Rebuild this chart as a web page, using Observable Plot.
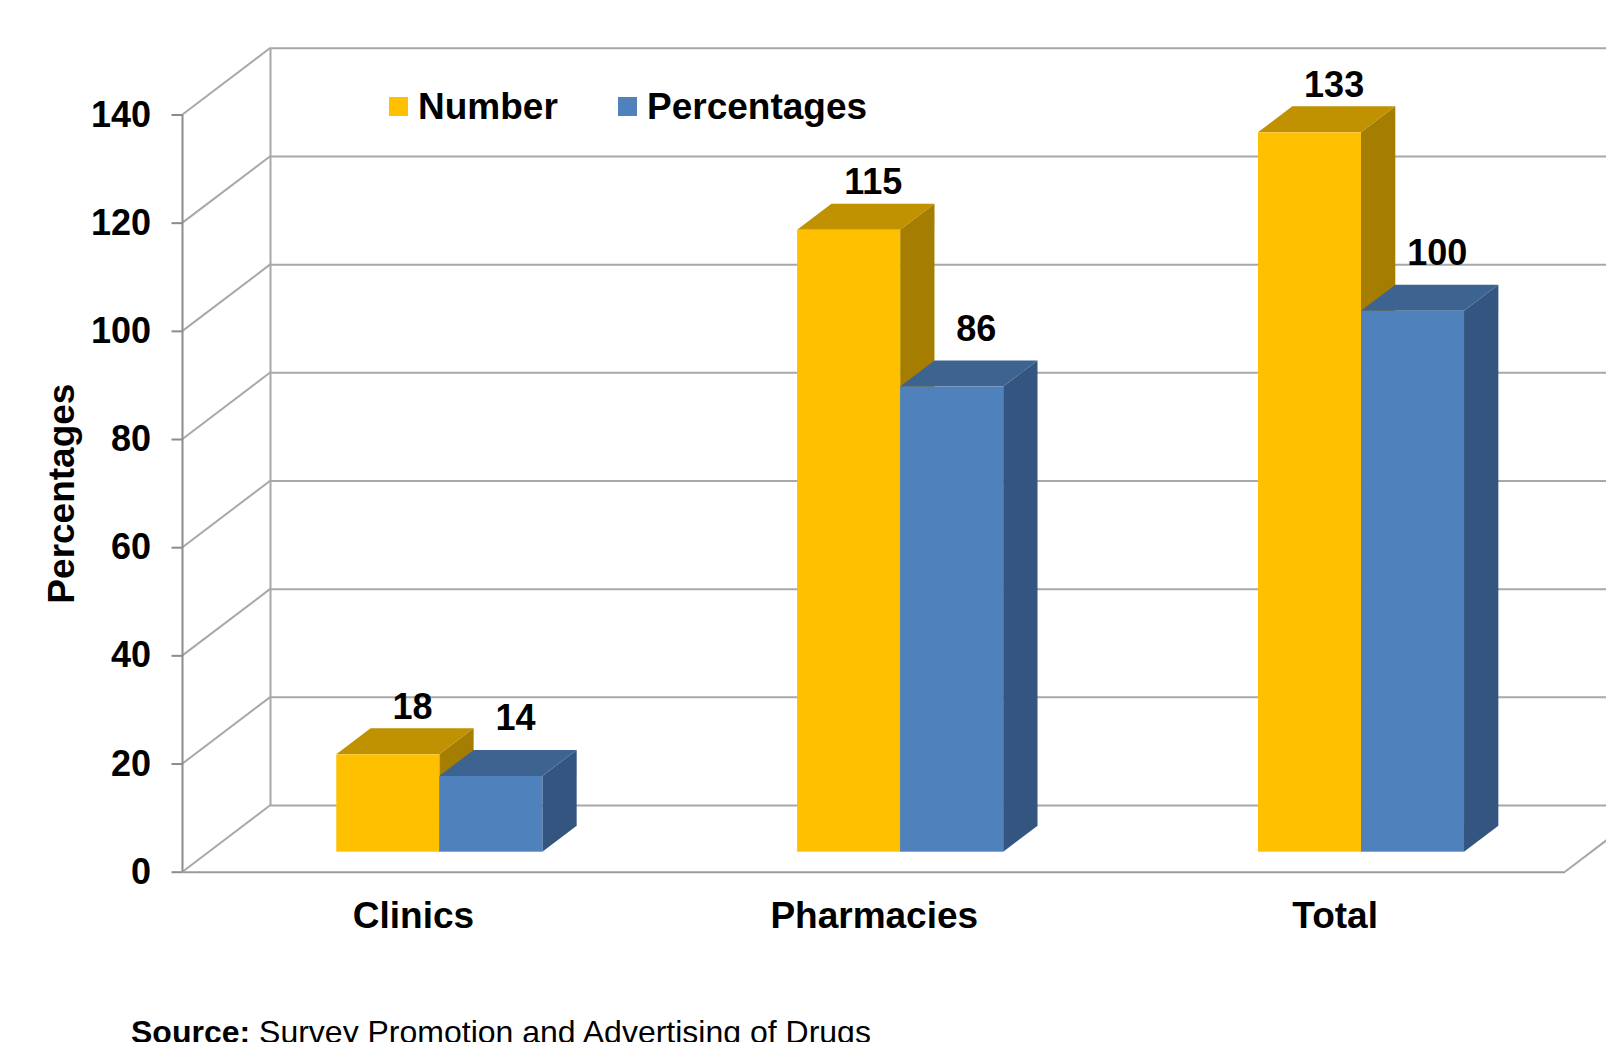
<!DOCTYPE html>
<html>
<head>
<meta charset="utf-8">
<script src="https://cdn.jsdelivr.net/npm/d3@7"></script>
<script src="https://cdn.jsdelivr.net/npm/@observablehq/plot@0.6"></script>
<style>
  html, body { margin: 0; padding: 0; background: #fff; overflow: hidden; }
  #wrap { position: relative; width: 1606px; height: 1042px; font-family: "Liberation Sans", Arial, Helvetica, sans-serif; color: #000; }
  .key { position: absolute; top: 87.5px; display: flex; align-items: center; font-size: 37px; font-weight: bold; line-height: 1; }
  .key i { display: inline-block; width: 19px; height: 19px; margin-right: 10px; }
  .caption { position: absolute; left: 131px; top: 1016px; font-size: 32px; line-height: 1; white-space: nowrap; }
</style>
</head>
<body>
<div id="wrap"></div>
<script>
// ---- data ----
const categories = ["Clinics", "Pharmacies", "Total"];
const series = ["Number", "Percentages"];
const numberValues = [18, 115, 133];
const percentageValues = [14, 86, 100];
const yTicks = [0, 20, 40, 60, 80, 100, 120, 140];
const axisTitle = "Percentages";
const sourceLabel = "Source:";
const sourceText = "Survey Promotion and Advertising of Drugs";

// ---- styling ----
const shades = [
  {front: "#FFC000", top: "#C09100", side: "#A57D00"},
  {front: "#4F81BD", top: "#3D6391", side: "#34557F"}
];
const GRID = "#A8A8A8";
const AXIS = "#8C8C8C";
const WIDTH = 1606, HEIGHT = 1000;
const M = {top: 114.5, right: 41, bottom: 128.3, left: 182.5};
const WALL = [88, -66.7];          // depth vector of the chart box (px)
const BAR_OFFSET = 0.3;            // bar front face, as a fraction of the box depth
const BAR_DEPTH = 0.39;            // bar depth, as a fraction of the box depth
const BAR_FRAC = 0.2236;           // bar width, as a fraction of the band
const LABEL_LIFT = [10, 20];       // gap between bar top and its value label
const LABEL_SHIFT = 7;

const rows = categories.flatMap((c, i) => [
  {category: c, k: 0, series: series[0], value: numberValues[i]},
  {category: c, k: 1, series: series[1], value: percentageValues[i]}
]);

const bandPx = (WIDTH - M.left - M.right) / categories.length;
const barPx = bandPx * BAR_FRAC;
const off = [WALL[0] * BAR_OFFSET, WALL[1] * BAR_OFFSET];
const dep = [WALL[0] * BAR_DEPTH, WALL[1] * BAR_DEPTH];

// side wall, back-wall edge and floor edges of the box
function box(index, {x, y}) {
  const g = d3.create("svg:g").attr("fill", "none").attr("stroke-width", 2);
  const [x0, x1] = x.range();
  const [wx, wy] = WALL;
  const y0 = y(0), yTop = y(d3.max(yTicks));
  for (const t of yTicks) {
    g.append("line").attr("x1", x0).attr("y1", y(t)).attr("x2", x0 + wx).attr("y2", y(t) + wy).attr("stroke", GRID);
  }
  g.append("line").attr("x1", x0 + wx).attr("y1", y0 + wy).attr("x2", x0 + wx).attr("y2", yTop + wy).attr("stroke", GRID);
  g.append("line").attr("x1", x1).attr("y1", y0).attr("x2", x1 + wx).attr("y2", y0 + wy).attr("stroke", GRID);
  g.append("line").attr("x1", x0).attr("y1", y0).attr("x2", x0).attr("y2", yTop).attr("stroke", AXIS);
  return g.node();
}

// 3-D columns: side, top and front faces
function columns(index, {x, y}) {
  const g = d3.create("svg:g");
  const bw = x.bandwidth();
  const w = bw * BAR_FRAC;
  for (const r of rows) {
    const mid = x(r.category) + bw / 2 + off[0];
    const xl = mid + (r.k - 1) * w, xr = xl + w;
    const yb = y(0) + off[1], yt = y(r.value) + off[1];
    const s = shades[r.k];
    g.append("path").attr("fill", s.side)
      .attr("d", `M${xr},${yt}L${xr + dep[0]},${yt + dep[1]}L${xr + dep[0]},${yb + dep[1]}L${xr},${yb}Z`);
    g.append("path").attr("fill", s.top)
      .attr("d", `M${xl},${yt}L${xl + dep[0]},${yt + dep[1]}L${xr + dep[0]},${yt + dep[1]}L${xr},${yt}Z`);
    g.append("rect").attr("fill", s.front)
      .attr("x", xl).attr("y", yt).attr("width", w).attr("height", yb - yt);
  }
  return g.node();
}

const labelDx = k => off[0] + (k - 0.5) * barPx + dep[0] / 2 + LABEL_SHIFT;
const labelDy = k => off[1] + dep[1] - LABEL_LIFT[k];

const chart = Plot.plot({
  width: WIDTH,
  height: HEIGHT,
  marginTop: M.top,
  marginRight: M.right,
  marginBottom: M.bottom,
  marginLeft: M.left,
  style: {
    fontFamily: '"Liberation Sans", Arial, Helvetica, sans-serif',
    fontSize: "36px",
    fontWeight: "bold",
    color: "#000",
    background: "#fff",
    overflow: "visible"
  },
  x: {type: "band", domain: categories, padding: 0, round: false},
  y: {domain: [0, 140]},
  marks: [
    Plot.ruleY(yTicks, {dx: WALL[0], dy: WALL[1], stroke: GRID, strokeWidth: 2}),
    box,
    Plot.ruleY([0], {stroke: "#9B9B9B", strokeWidth: 2}),
    columns,
    Plot.text(rows.filter(d => d.k === 0), {
      x: "category", y: "value", text: d => String(d.value),
      dx: labelDx(0), dy: labelDy(0), lineAnchor: "bottom", fontSize: 36
    }),
    Plot.text(rows.filter(d => d.k === 1), {
      x: "category", y: "value", text: d => String(d.value),
      dx: labelDx(1), dy: labelDy(1), lineAnchor: "bottom", fontSize: 36
    }),
    Plot.axisY({ticks: yTicks, tickSize: 11, tickPadding: 21, stroke: AXIS, strokeWidth: 2, label: null, fontSize: 36}),
    Plot.axisX({tickSize: 0, tickPadding: 30, label: null, fontSize: 37}),
    Plot.text([axisTitle], {
      frameAnchor: "left", textAnchor: "middle", rotate: -90,
      dx: -109.5, lineAnchor: "bottom", fontSize: 37
    })
  ]
});

const wrap = document.getElementById("wrap");
wrap.appendChild(chart);

// legend
const keyLeft = [389, 618];
series.forEach((name, k) => {
  const item = document.createElement("div");
  item.className = "key";
  item.style.left = keyLeft[k] + "px";
  const sw = document.createElement("i");
  sw.style.background = shades[k].front;
  item.appendChild(sw);
  item.appendChild(document.createTextNode(name));
  wrap.appendChild(item);
});

// source line
const cap = document.createElement("div");
cap.className = "caption";
const b = document.createElement("b");
b.textContent = sourceLabel;
cap.appendChild(b);
cap.appendChild(document.createTextNode(" " + sourceText));
wrap.appendChild(cap);
</script>
</body>
</html>
